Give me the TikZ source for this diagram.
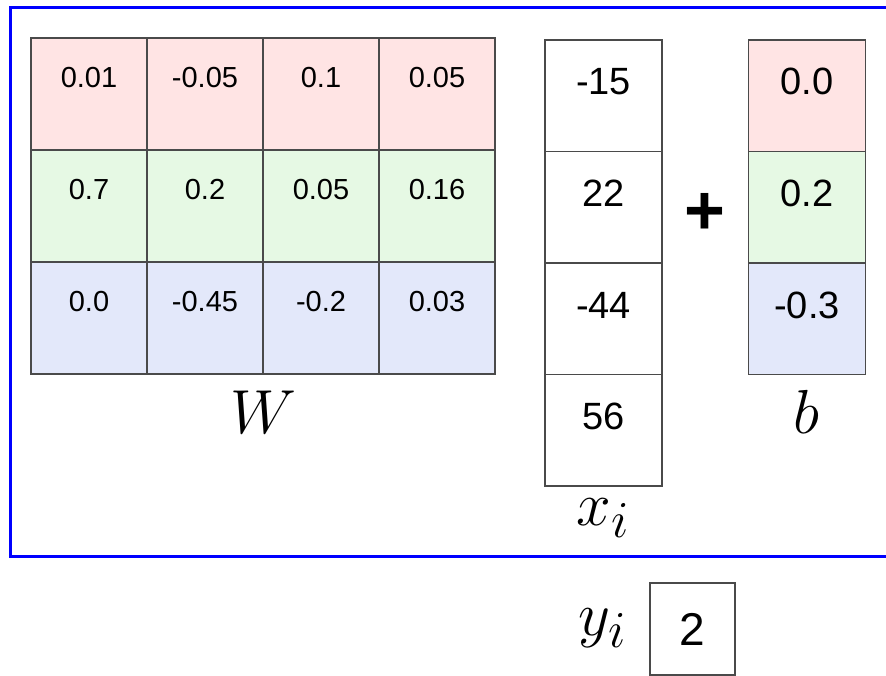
\documentclass[tikz,border=0pt]{standalone}
\usepackage{fontspec}
\newfontfamily\arialish{Liberation Sans}
\definecolor{cred}{HTML}{FFE4E4}
\definecolor{cgreen}{HTML}{E6F9E4}
\definecolor{cblue}{HTML}{E3E8FA}
\definecolor{cborder}{HTML}{4A4A4A}
\newcommand{\bigmath}[1]{\scalebox{2.5}{\Huge$#1$}}
\begin{document}
\begin{tikzpicture}[x=1pt,y=-1pt,
  wcell/.style={draw=cborder,line width=1.6pt,rectangle,inner sep=0pt,
    minimum width=116pt,minimum height=112pt,text height=50pt,text depth=62pt,
    font=\arialish\fontsize{29}{34}\selectfont},
  vcell/.style={draw=cborder,line width=1.6pt,rectangle,inner sep=0pt,
    minimum width=117pt,minimum height=111.5pt,text height=55pt,text depth=56.5pt,
    font=\arialish\fontsize{38}{44}\selectfont},
  mlabel/.style={inner sep=0pt},
  frame/.style={draw=blue,line width=3pt}]
\useasboundingbox (0,0) rectangle (886,676);
\fill[white] (0,0) rectangle (886,676);
\draw[frame] (10,8) rectangle (900,556);
% W matrix
\node[wcell,fill=cred]   (w11) at (89,94)  {0.01};
\node[wcell,fill=cred]   (w12) at (205,94) {-0.05};
\node[wcell,fill=cred]   (w13) at (321,94) {0.1};
\node[wcell,fill=cred]   (w14) at (437,94) {0.05};
\node[wcell,fill=cgreen] (w21) at (89,206)  {0.7};
\node[wcell,fill=cgreen] (w22) at (205,206) {0.2};
\node[wcell,fill=cgreen] (w23) at (321,206) {0.05};
\node[wcell,fill=cgreen] (w24) at (437,206) {0.16};
\node[wcell,fill=cblue]  (w31) at (89,318)  {0.0};
\node[wcell,fill=cblue]  (w32) at (205,318) {-0.45};
\node[wcell,fill=cblue]  (w33) at (321,318) {-0.2};
\node[wcell,fill=cblue]  (w34) at (437,318) {0.03};
\node[mlabel] (wl) at (263,412) {\bigmath{W}};
% x vector
\node[vcell,fill=white] (x1) at (603.5,95.75)  {-15};
\node[vcell,fill=white] (x2) at (603.5,207.25) {22};
\node[vcell,fill=white] (x3) at (603.5,318.75) {-44};
\node[vcell,fill=white] (x4) at (603.5,430.25) {56};
\node[mlabel] (xl) at (603,518) {\bigmath{x_i}};
% plus
\node[inner sep=0pt,font=\arialish\bfseries\fontsize{70}{80}\selectfont] (plus) at (705,214) {+};
% b vector
\node[vcell,fill=cred]   (b1) at (807,95.75)  {0.0};
\node[vcell,fill=cgreen] (b2) at (807,207.25) {0.2};
\node[vcell,fill=cblue]  (b3) at (807,318.75) {-0.3};
\node[mlabel] (bl) at (806,412) {\bigmath{b}};
% y
\node[mlabel] (yl) at (603,628) {\bigmath{y_i}};
\node[draw=cborder,line width=1.6pt,inner sep=0pt,minimum width=85pt,minimum height=92pt,
  font=\arialish\fontsize{46}{52}\selectfont] (y) at (692.5,629) {2};
\end{tikzpicture}
\end{document}
